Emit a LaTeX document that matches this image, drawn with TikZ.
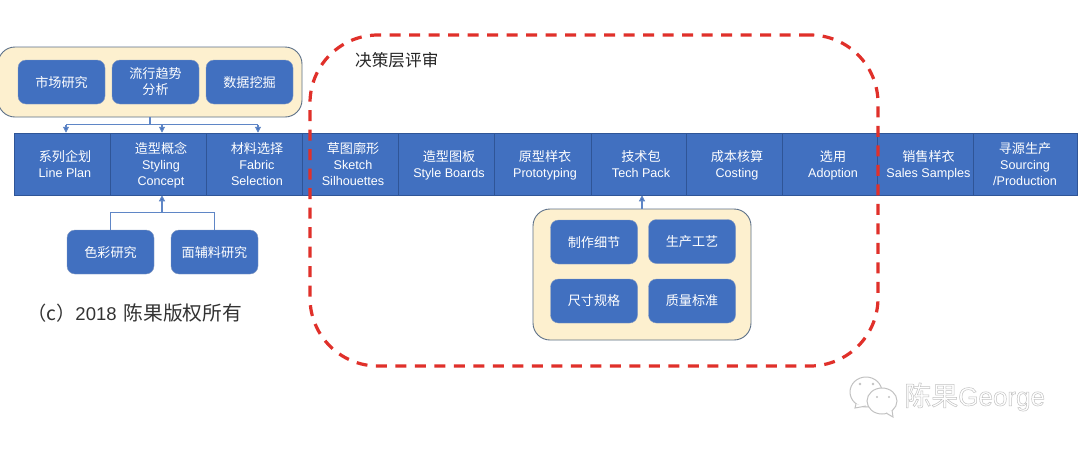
\documentclass[tikz,border=0pt]{standalone}
\usepackage{fontspec}
\setmainfont{Liberation Sans}
\newfontfamily\cjk[Scale=1.04]{Noto Sans CJK SC}
\usetikzlibrary{arrows.meta,calc}
\definecolor{bluefill}{HTML}{4170C0}
\definecolor{bluedark}{HTML}{2F5597}
\definecolor{lineblue}{HTML}{5F86C6}
\definecolor{cream}{HTML}{FDF0CF}
\definecolor{creamedge}{HTML}{5C7088}
\definecolor{redline}{HTML}{E0302A}
\definecolor{wmgrey}{HTML}{C2C2C2}
\newcommand\lbl[2][6pt]{\hspace*{#1}\begin{tabular}{@{}c@{}}\rule{0pt}{15.2pt}#2\end{tabular}}
\tikzset{
  x=1pt,y=-1pt,
  txt/.style={text=white,align=center,inner sep=0pt,font=\fontsize{12.6}{16}\selectfont},
  cell/.style={text=white,inner sep=0pt,font=\fontsize{12.6}{16}\selectfont,draw=bluedark,line width=0.5pt,fill=bluefill,minimum height=62pt},
  chip/.style={txt,fill=bluefill,draw=bluedark!60,line width=0.4pt,rounded corners=8pt,minimum width=87pt,minimum height=44pt},
  panel/.style={fill=cream,draw=creamedge,line width=0.9pt,rounded corners=17pt,inner sep=0pt},
  conn/.style={draw=lineblue,line width=1.1pt},
  arrowconn/.style={conn,-{Triangle[length=6pt,width=6pt,fill=bluefill]}},
  bubble/.style={fill=white,draw=wmgrey,line width=1pt}
}
\begin{document}
\begin{tikzpicture}
\useasboundingbox (0,0) rectangle (1080,448);
\fill[white] (0,0) rectangle (1080,448);
% top research panel
\node[panel,minimum width=304pt,minimum height=70pt] (top) at (150,82) {};
\node[chip] (t1) at (61.5,82) {\cjk 市场研究};
\node[chip] (t2) at (155.5,82) {\cjk 流行趋势\\\cjk 分析};
\node[chip] (t3) at (249.5,82) {\cjk 数据挖掘};
% process row
\node[cell,minimum width=96pt] (r1) at (62,164) {\lbl{\cjk 系列企划\\Line Plan}};
\node[cell,minimum width=96pt] (r2) at (158,164) {\lbl{\cjk 造型概念\\Styling\\Concept}};
\node[cell,minimum width=96pt] (r3) at (254,164) {\lbl{\cjk 材料选择\\Fabric\\Selection}};
\node[cell,minimum width=96pt] (r4) at (350,164) {\lbl{\cjk 草图廓形\\Sketch\\Silhouettes}};
\node[cell,minimum width=96pt] (r5) at (446,164) {\lbl{\cjk 造型图板\\Style Boards}};
\node[cell,minimum width=97pt] (r6) at (542.5,164) {\lbl[5pt]{\cjk 原型样衣\\Prototyping}};
\node[cell,minimum width=95pt] (r7) at (638.5,164) {\lbl[5pt]{\cjk 技术包\\Tech Pack}};
\node[cell,minimum width=96pt] (r8) at (734,164) {\lbl{\cjk 成本核算\\Costing}};
\node[cell,minimum width=95pt] (r9) at (829.5,164) {\lbl[7pt]{\cjk 选用\\Adoption}};
\node[cell,minimum width=96pt] (r10) at (925,164) {\lbl[7pt]{\cjk 销售样衣\\Sales Samples}};
\node[cell,minimum width=104pt] (r11) at (1025,164) {\lbl[0pt]{\cjk 寻源生产\\Sourcing\\/Production}};
% top connectors
\coordinate (tj) at (150,125);
\draw[conn] (top.south) -- (tj);
\draw[conn] ($(r1.north)+(4,-8)$) -- ($(r3.north)+(4,-8)$);
\draw[arrowconn] ($(r1.north)+(4,-8)$) -- ($(r1.north)+(4,0)$);
\draw[arrowconn] ($(r2.north)+(4,-8)$) -- ($(r2.north)+(4,0)$);
\draw[arrowconn] ($(r3.north)+(4,-8)$) -- ($(r3.north)+(4,0)$);
% lower-left chips
\node[chip] (b1) at (110.5,252) {\cjk 色彩研究};
\node[chip] (b2) at (214.5,252) {\cjk 面辅料研究};
\coordinate (bj) at (162,212.5);
\draw[conn] (b1.north) |- (bj) -| (b2.north);
\draw[arrowconn] (bj) -- (bj |- r2.south);
% tech pack panel
\node[panel,minimum width=218pt,minimum height=131pt] (tp) at (642,274.5) {};
\node[chip] (p1) at (594,242) {\cjk 制作细节};
\node[chip] (p2) at (692,241.5) {\cjk 生产工艺};
\node[chip] (p3) at (594,301) {\cjk 尺寸规格};
\node[chip] (p4) at (692,301) {\cjk 质量标准};
\draw[arrowconn] (tp.north) -- (tp.north |- r7.south);
% review frame
\node[draw=redline,line width=3.2pt,dash pattern=on 11pt off 8.5pt,rounded corners=68pt,minimum width=568pt,minimum height=331pt,inner sep=0pt] (review) at (594,200.5) {};
\node[anchor=west,inner sep=0pt,text=black!85,font=\fontsize{16}{20}\selectfont] (rt) at (355,60) {\cjk 决策层评审};
\node[anchor=west,inner sep=0pt,text=black!80,font=\fontsize{18.5}{22}\selectfont] (cr) at (27,313) {{\cjk （c）}2018\hspace{7pt}{\fontsize{19}{22}\selectfont\cjk 陈果版权所有}};
% watermark
\draw[bubble] (866,392) ellipse (16 and 15);
\draw[bubble] (856,404) -- (855,408) -- (866,406);
\fill[wmgrey] (860,384) circle (1.3) (873,384) circle (1.3);
\draw[bubble] (882,401) ellipse (15 and 13);
\draw[bubble] (886,413) -- (893,417) -- (892,410);
\fill[wmgrey] (877,397) circle (1.2) (889,397) circle (1.2);
\node[anchor=west,inner sep=0pt,text=wmgrey,font=\fontsize{26}{30}\selectfont] (wm) at (904,397) {\special{pdf:code 1 Tr 0.5 w}\cjk 陈果\normalfont George\special{pdf:code 0 Tr}};
\end{tikzpicture}
\end{document}
